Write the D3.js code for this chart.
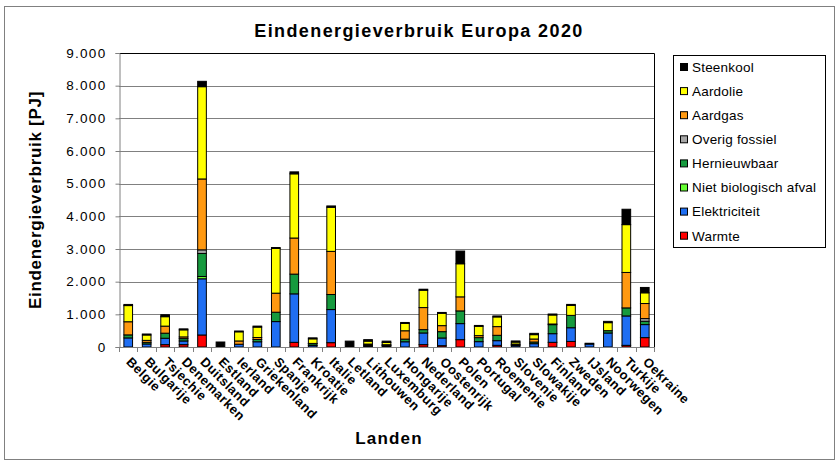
<!DOCTYPE html>
<html>
<head>
<meta charset="utf-8">
<script src="https://cdn.jsdelivr.net/npm/d3@7"></script>
<style>
  body { margin: 0; background: #fff; }
  text { font-family: "Liberation Sans", Arial, sans-serif; }
</style>
</head>
<body>
<div id="chart"></div>
<script>

// landen (x-as)
var landen = ["Belgie", "Bulgarije", "Tsjechie", "Denemarken", "Duitsland", "Estland", "Ierland",
  "Griekenland", "Spanje", "Frankrijk", "Kroatie", "Italie", "Letland", "Lithouwen", "Luxemburg",
  "Hongarije", "Nederland", "Oostenrijk", "Polen", "Portugal", "Roemenie", "Slovenie", "Slowakije",
  "Finland", "Zweden", "IJsland", "Noorwegen", "Turkije", "Oekraine"];

// waarden in PJ
var warmte        = [0, 0, 72, 72, 368, 0, 0, 0, 0, 143, 0, 133, 0, 0, 0, 0, 72, 41, 225, 0, 51, 0, 0, 143, 170, 0, 0, 51, 287];
var elektriciteit = [278, 93, 196, 113, 1720, 0, 85, 160, 778, 1484, 45, 1013, 0, 30, 30, 160, 358, 235, 491, 164, 143, 40, 102, 265, 420, 90, 429, 900, 399];
var nietBioAfval  = [0, 0, 0, 0, 70, 0, 0, 0, 0, 0, 0, 0, 0, 0, 0, 0, 0, 0, 0, 0, 0, 0, 0, 0, 0, 0, 0, 0, 0];
var hernieuwbaar  = [93, 50, 155, 72, 706, 0, 0, 70, 287, 604, 55, 461, 0, 30, 20, 82, 102, 194, 389, 123, 164, 30, 51, 276, 378, 0, 71, 246, 102];
var overigFossiel = [0, 0, 0, 0, 110, 0, 0, 0, 0, 0, 0, 0, 0, 0, 0, 0, 0, 0, 0, 0, 0, 0, 0, 0, 0, 0, 0, 0, 82];
var aardgas       = [402, 60, 216, 52, 2170, 0, 100, 60, 583, 1105, 10, 1320, 0, 30, 20, 255, 675, 184, 430, 61, 266, 20, 92, 20, 0, 0, 0, 1085, 461];
var aardolie      = [495, 165, 289, 216, 2825, 0, 280, 320, 1372, 1965, 140, 1351, 0, 90, 70, 224, 532, 379, 1013, 287, 297, 60, 133, 276, 306, 0, 245, 1464, 328];
var steenkool     = [35, 30, 60, 30, 164, 153, 25, 30, 25, 60, 30, 40, 180, 45, 40, 30, 30, 25, 389, 25, 30, 35, 40, 30, 30, 25, 40, 471, 164];

var reeksen = ["Warmte", "Elektriciteit", "Niet biologisch afval", "Hernieuwbaar", "Overig fossiel", "Aardgas", "Aardolie", "Steenkool"];
var kleuren = ["#ff0000", "#1f6ef2", "#66ff33", "#169a3e", "#a6a6a6", "#ff9911", "#ffff00", "#000000"];
var yTicks = [0, 1000, 2000, 3000, 4000, 5000, 6000, 7000, 8000, 9000];

var w = 840, h = 470;
var plot = { left: 119, right: 654, top: 53, bottom: 347 };

var data = landen.map(function(land, i) {
  return {
    land: land,
    "Warmte": warmte[i],
    "Elektriciteit": elektriciteit[i],
    "Niet biologisch afval": nietBioAfval[i],
    "Hernieuwbaar": hernieuwbaar[i],
    "Overig fossiel": overigFossiel[i],
    "Aardgas": aardgas[i],
    "Aardolie": aardolie[i],
    "Steenkool": steenkool[i]
  };
});

var nl = d3.formatLocale({ decimal: ",", thousands: ".", grouping: [3], currency: ["€", ""] });
var fmt = nl.format(",d");

var svg = d3.select("#chart").append("svg")
  .attr("width", w)
  .attr("height", h);

// rand om de hele grafiek
svg.append("rect")
  .attr("x", 4.5).attr("y", 6.5)
  .attr("width", 830).attr("height", 453)
  .attr("fill", "#fff")
  .attr("stroke", "#808080");

var x = d3.scaleBand()
  .domain(landen)
  .range([plot.left, plot.right])
  .padding(0);

var y = d3.scaleLinear()
  .domain([0, 9000])
  .range([plot.bottom, plot.top]);

var barW = x.bandwidth() * 0.47;

// rasterlijnen
svg.append("g")
  .selectAll("line")
  .data(yTicks.slice(1, -1))
  .enter()
  .append("line")
  .attr("x1", plot.left).attr("x2", plot.right)
  .attr("y1", function(d) { return Math.round(y(d)) + 0.5; })
  .attr("y2", function(d) { return Math.round(y(d)) + 0.5; })
  .attr("stroke", "#808080");

// bovenkant en rechterkant van het plotvlak
svg.append("path")
  .attr("d", "M" + plot.left + "," + (plot.top + 0.5) + "H" + (plot.right + 0.5) + "V" + plot.bottom)
  .attr("fill", "none")
  .attr("stroke", "#000");

// gestapelde staven
var stack = d3.stack().keys(reeksen);
var series = stack(data);

svg.append("g")
  .selectAll("g")
  .data(series)
  .enter()
  .append("g")
  .attr("fill", function(d, i) { return kleuren[i]; })
  .selectAll("rect")
  .data(function(d) { return d.filter(function(s) { return s[1] - s[0] > 0; }); })
  .enter()
  .append("rect")
  .attr("x", function(d) { return x(d.data.land) + (x.bandwidth() - barW) / 2; })
  .attr("width", barW)
  .attr("y", function(d) { return y(d[1]); })
  .attr("height", function(d) { return y(d[0]) - y(d[1]); })
  .attr("stroke", "#000")
  .attr("stroke-width", 1);

// y-as
var yAxis = d3.axisLeft(y)
  .tickValues(yTicks)
  .tickFormat(function(d) { return fmt(d); })
  .tickSize(4)
  .tickPadding(9);

var gy = svg.append("g")
  .attr("transform", "translate(" + (plot.left + 0.5) + ",0)")
  .call(yAxis);
gy.select(".domain").attr("stroke", "#808080");
gy.selectAll(".tick line").attr("stroke", "#808080");
gy.selectAll(".tick text")
  .attr("fill", "#000")
  .style("font-size", "13.5px")
  .style("letter-spacing", "1.3px")
  .style("font-family", "'Liberation Sans', Arial, sans-serif");

// x-as met streepjes tussen de landen
var gx = svg.append("g");
gx.append("line")
  .attr("x1", plot.left).attr("x2", plot.right)
  .attr("y1", plot.bottom + 0.5).attr("y2", plot.bottom + 0.5)
  .attr("stroke", "#808080");
gx.selectAll(".sep")
  .data(landen.concat(["eind"]))
  .enter()
  .append("line")
  .attr("class", "sep")
  .attr("x1", function(d, i) { return Math.round(plot.left + i * x.step()) + 0.5; })
  .attr("x2", function(d, i) { return Math.round(plot.left + i * x.step()) + 0.5; })
  .attr("y1", plot.bottom)
  .attr("y2", plot.bottom + 5)
  .attr("stroke", "#808080");

gx.selectAll(".lbl")
  .data(landen)
  .enter()
  .append("text")
  .attr("class", "lbl")
  .attr("transform", function(d) {
    return "translate(" + (x(d) + x.bandwidth() / 2 + 4) + "," + (plot.bottom + 9) + ") rotate(45)";
  })
  .attr("dy", "0.72em")
  .style("font-size", "13px")
  .style("font-weight", "bold")
  .style("letter-spacing", "0.5px")
  .text(function(d) { return d; });

// titels
svg.append("text")
  .attr("x", 419).attr("y", 37)
  .attr("text-anchor", "middle")
  .style("font-size", "18px")
  .style("font-weight", "bold")
  .style("letter-spacing", "1.4px")
  .text("Eindenergieverbruik Europa 2020");

svg.append("text")
  .attr("transform", "translate(41,200) rotate(-90)")
  .attr("text-anchor", "middle")
  .style("font-size", "17px")
  .style("font-weight", "bold")
  .style("letter-spacing", "0.7px")
  .text("Eindenergieverbruik [PJ]");

svg.append("text")
  .attr("x", 389).attr("y", 444)
  .attr("text-anchor", "middle")
  .style("font-size", "17px")
  .style("font-weight", "bold")
  .style("letter-spacing", "1.2px")
  .text("Landen");

// legenda, Steenkool bovenaan
var legend = svg.append("g");
legend.append("rect")
  .attr("x", 673.5).attr("y", 55.5)
  .attr("width", 152).attr("height", 192)
  .attr("fill", "#fff")
  .attr("stroke", "#000");

var items = reeksen.slice().reverse();
var li = legend.selectAll(".item")
  .data(items)
  .enter()
  .append("g")
  .attr("class", "item")
  .attr("transform", function(d, i) { return "translate(680," + (67 + i * 24.1) + ")"; });

li.append("rect")
  .attr("x", 0.5).attr("y", -3.5)
  .attr("width", 7).attr("height", 7)
  .attr("fill", function(d) { return kleuren[reeksen.indexOf(d)]; })
  .attr("stroke", "#000");

li.append("text")
  .attr("x", 12).attr("dy", "0.36em")
  .style("font-size", "13.5px")
  .style("letter-spacing", "0.2px")
  .text(function(d) { return d; });

</script>
</body>
</html>
